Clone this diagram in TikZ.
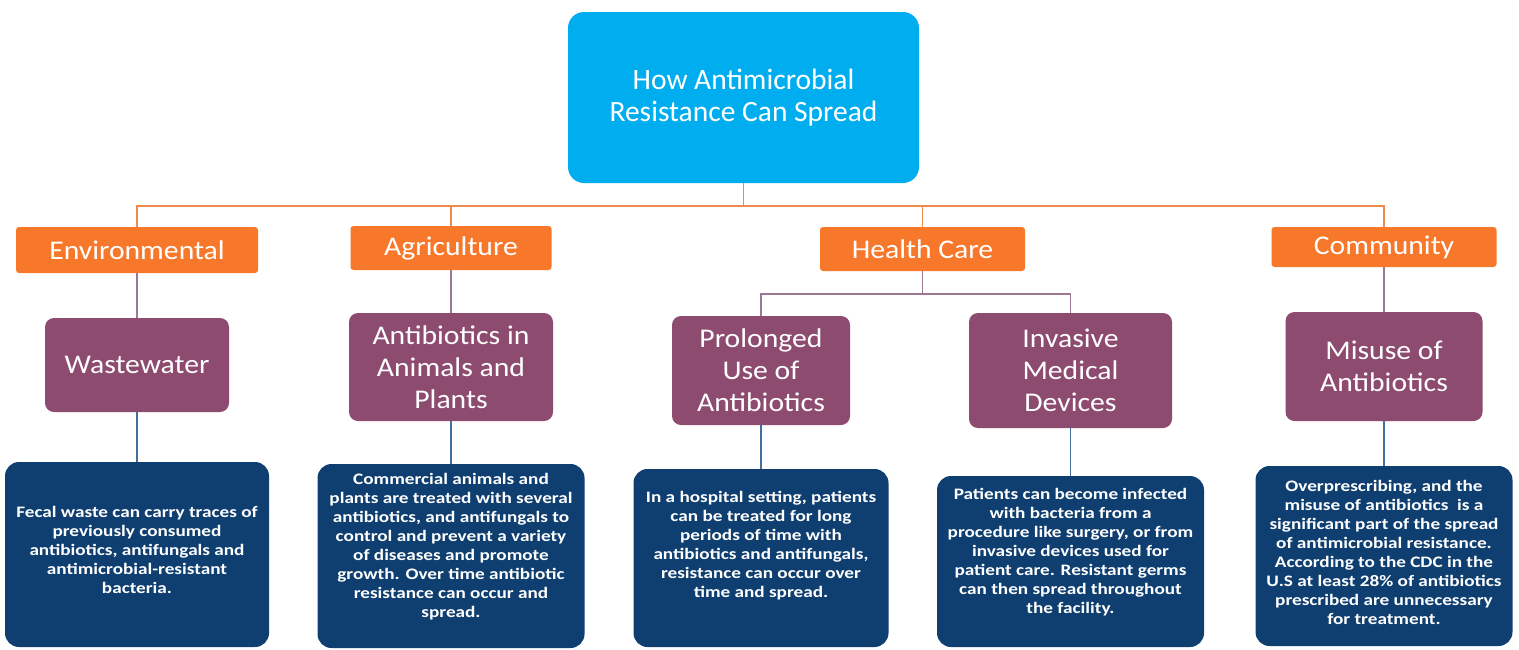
\documentclass[tikz,border=0pt]{standalone}
\usepackage{fontspec}
\setmainfont{Carlito}
\newfontfamily\widefont[FakeStretch=1.1]{Carlito}
\newfontfamily\descfont[FakeStretch=1.2]{Carlito}
\usetikzlibrary{positioning}

\definecolor{titleblue}{HTML}{00AEEF}
\definecolor{catorange}{HTML}{F7782A}
\definecolor{topicplum}{HTML}{8D4B6F}
\definecolor{descnavy}{HTML}{0F3F70}
\definecolor{busorange}{HTML}{F08A4B}
\definecolor{stemplum}{HTML}{9C7894}
\definecolor{stemblue}{HTML}{41709C}

\tikzset{
  mainbox/.style={fill=titleblue, rounded corners=16pt, text=white, align=center,
    font=\fontsize{29.5}{32}\selectfont},
  catbox/.style={fill=catorange, rounded corners=3pt, text=white,
    font=\widefont\fontsize{27}{30}\selectfont},
  topicbox/.style={fill=topicplum, rounded corners=9pt, text=white, align=center,
    font=\widefont\fontsize{27}{32}\selectfont},
  descbox/.style={fill=descnavy, rounded corners=14pt},
  desctext/.style={text=white, align=center, font=\descfont\fontsize{16}{19}\selectfont\bfseries},
  busline/.style={busorange, line width=1.5pt},
  plumline/.style={stemplum, line width=1.5pt},
  blueline/.style={stemblue, line width=1.5pt}
}

\begin{document}
\begin{tikzpicture}[x=1pt, y=-1pt]
  \useasboundingbox (0,0) rectangle (1519,649);

  % Titulo
  \node[mainbox, minimum width=351pt, minimum height=171pt] (title) at (743.5,97.5)
    {How Antimicrobial\\Resistance Can Spread};

  % Categorias
  \node[catbox, minimum width=242pt, minimum height=46pt] (env) at (137,250) {Environmental};
  \node[catbox, minimum width=201pt, minimum height=44pt] (agr) at (451,248) {Agriculture};
  \node[catbox, minimum width=205pt, minimum height=44pt] (hc) at (922.5,249) {Health Care};
  \node[catbox, minimum width=225pt, minimum height=40pt] (com) at (1384,247) {Community};

  % Causas
  \node[topicbox, minimum width=184pt, minimum height=94pt] (waste) at (137,365) {Wastewater};
  \node[topicbox, minimum width=204pt, minimum height=108pt] (animals) at (451,367)
    {Antibiotics in\\Animals and\\Plants};
  \node[topicbox, minimum width=178pt, minimum height=109pt] (prolonged) at (761,370.5)
    {Prolonged\\Use of\\Antibiotics};
  \node[topicbox, minimum width=203pt, minimum height=115pt] (invasive) at (1070.5,370.5)
    {Invasive\\Medical\\Devices};
  \node[topicbox, minimum width=197pt, minimum height=109pt] (misuse) at (1384,366.5)
    {Misuse of\\Antibiotics};

  % Descricoes
  \node[descbox, minimum width=264pt, minimum height=185pt] (d1) at (137,554.5) {};
  \node[descbox, minimum width=267pt, minimum height=184pt] (d2) at (451,556) {};
  \node[descbox, minimum width=255pt, minimum height=178pt] (d3) at (761,558) {};
  \node[descbox, minimum width=267pt, minimum height=171pt] (d4) at (1070.5,561.5) {};
  \node[descbox, minimum width=257pt, minimum height=180pt] (d5) at (1384,556) {};

  \node[desctext] (d1t) at ([yshift=5pt]d1.center)
    {Fecal waste can carry traces of\\previously consumed\\antibiotics, antifungals and\\antimicrobial-resistant\\bacteria.};
  \node[desctext] (d2t) at ([yshift=9pt]d2.center)
    {Commercial animals and\\plants are treated with several\\antibiotics, and antifungals to\\control and prevent a variety\\of diseases and promote\\growth. Over time antibiotic\\resistance can occur and\\spread.};
  \node[desctext] (d3t) at ([yshift=12pt]d3.center)
    {In a hospital setting, patients\\can be treated for long\\periods of time with\\antibiotics and antifungals,\\resistance can occur over\\time and spread.};
  \node[desctext] (d4t) at ([yshift=9pt]d4.center)
    {Patients can become infected\\with bacteria from a\\procedure like surgery, or from\\invasive devices used for\\patient care. Resistant germs\\can then spread throughout\\the facility.};
  \node[desctext] (d5t) at ([yshift=4pt]d5.center)
    {Overprescribing, and the\\misuse of antibiotics\ \ is a\\significant part of the spread\\of antimicrobial resistance.\\According to the CDC in the\\U.S at least 28\% of antibiotics\\prescribed are unnecessary\\for treatment.};

  % Ligacoes
  \coordinate (bus) at (743.5,206);
  \draw[busline] (title.south) -- (bus);
  \foreach \n in {env,agr,hc,com}
    \draw[busline] (bus) -| (\n.north);

  \draw[plumline] (env.south) -- (waste.north);
  \draw[plumline] (agr.south) -- (animals.north);
  \draw[plumline] (com.south) -- (misuse.north);
  \coordinate (hcbus) at (922.5,294);
  \draw[plumline] (hc.south) -- (hcbus);
  \draw[plumline] (hcbus) -| (prolonged.north);
  \draw[plumline] (hcbus) -| (invasive.north);

  \foreach \a/\b in {waste/d1,animals/d2,prolonged/d3,invasive/d4,misuse/d5}
    \draw[blueline] (\a.south) -- (\b.north);
\end{tikzpicture}
\end{document}
